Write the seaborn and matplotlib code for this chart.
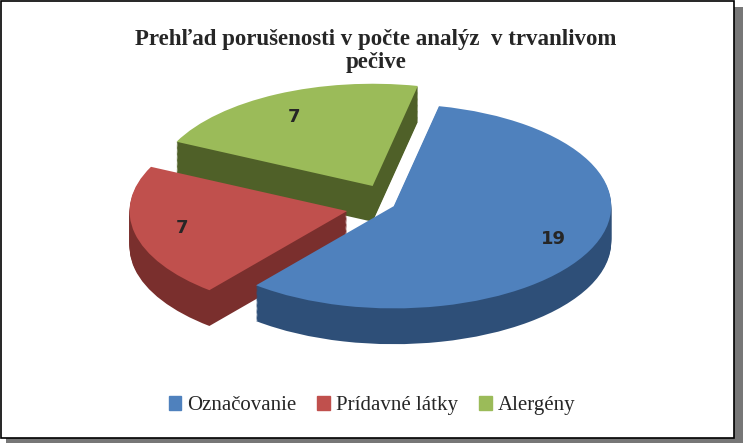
import matplotlib
matplotlib.use("Agg")
import matplotlib.pyplot as plt
import seaborn as sns
import numpy as np
from matplotlib.patches import Rectangle

sns.set_style("white")
plt.rcParams['font.family'] = ['Liberation Serif', 'DejaVu Serif']

categories = ["Označovanie", "Prídavné látky", "Alergény"]
values = [19, 7, 7]
colors = ["#4F81BD", "#C0504D", "#9BBB59"]
dark = ["#2E4F78", "#7A2F2D", "#4F6028"]
explode = [0.0, 0.22, 0.22]

fig = plt.figure(figsize=(7.44, 4.43), dpi=100)
fig.patches.append(Rectangle((0.008, 0.0), 0.99, 0.985, transform=fig.transFigure,
                             facecolor="#777777", edgecolor="none", zorder=-2))
fig.patches.append(Rectangle((0.002, 0.012), 0.985, 0.985, transform=fig.transFigure,
                             facecolor="white", edgecolor="black", lw=1.2, zorder=-1))

ax = fig.add_axes([0.12, 0.2, 0.76, 0.6])
depth = 0.35
steps = 30
start = 78
for k in range(steps, 0, -1):
    ax.pie(values, colors=dark, explode=explode, startangle=start, counterclock=False,
           center=(0, -depth * k / steps), radius=1.0,
           wedgeprops=dict(linewidth=0))
wedges, texts = ax.pie(values, colors=colors, explode=explode, startangle=start,
                       counterclock=False, radius=1.0,
                       labels=[str(v) for v in values], labeldistance=0.75,
                       wedgeprops=dict(linewidth=0))
for t in texts:
    t.set_fontfamily(['DejaVu Sans'])
    t.set_fontsize(13)
    t.set_fontweight('bold')
ax.set_aspect('auto')
ax.set_xlim(-1.4, 1.2)
ax.set_ylim(-1.45, 1.15)
ax.axis('off')

fig.text(0.505, 0.885, "Prehľad porušenosti v počte analýz  v trvanlivom\npečive",
         ha='center', va='center', fontsize=16.5, fontweight='bold', linespacing=1.15)

handles = [Rectangle((0, 0), 1, 1, color=c) for c in colors]
fig.legend(handles, categories, loc='lower center', ncol=3, frameon=False,
           bbox_to_anchor=(0.5, 0.02), fontsize=15, handlelength=0.6,
           handleheight=0.6, columnspacing=1.0, handletextpad=0.3)
fig.savefig("out.png", dpi=100)
